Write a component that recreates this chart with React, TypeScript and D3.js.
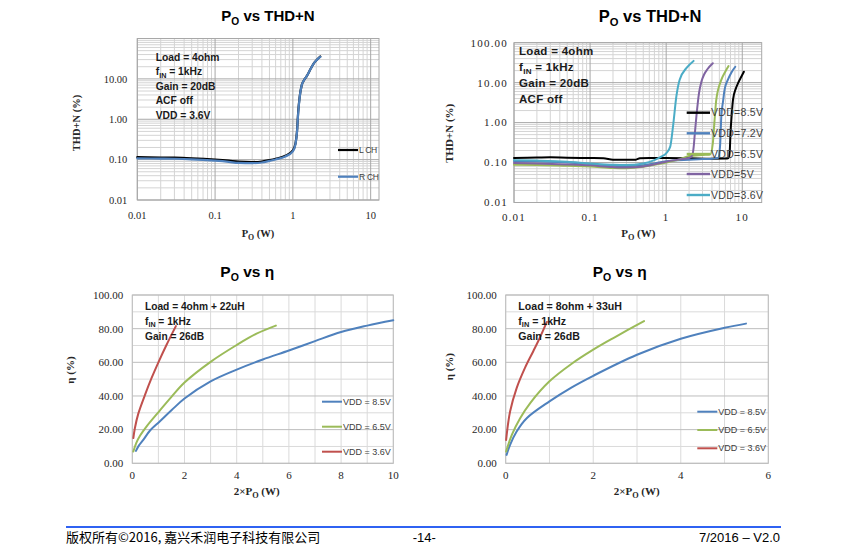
import React from 'react';
import * as d3 from 'd3';

// ---------- Top-left: Po vs THD+N (VDD 3.6V, L/R channels) ----------
const TL_PO = [0.01, 0.02, 0.03, 0.05, 0.1, 0.15, 0.2, 0.3, 0.4, 0.5, 0.6, 0.8, 1.0, 1.08, 1.13, 1.17, 1.22, 1.3, 1.4, 1.5, 1.7, 1.85, 2.05, 2.25];
const TL_LCH = [0.115, 0.113, 0.112, 0.108, 0.1, 0.094, 0.089, 0.087, 0.09, 0.097, 0.105, 0.125, 0.17, 0.25, 0.5, 1.5, 3.5, 7, 9.5, 11.5, 18, 24, 30, 36];
const TL_RCH = [0.107, 0.106, 0.105, 0.102, 0.094, 0.088, 0.083, 0.082, 0.085, 0.093, 0.101, 0.12, 0.16, 0.24, 0.48, 1.4, 3.4, 7, 9.5, 11.5, 18, 24, 30, 35];
const TL_NAMES = ['L CH', 'R CH'];
const TL_NOTES = ['Load = 4ohm', 'f{IN} = 1kHz', 'Gain = 20dB', 'ACF off', 'VDD = 3.6V'];

// ---------- Top-right: Po vs THD+N (several VDD) ----------
const TR_PO_85 = [0.01, 0.02, 0.03, 0.05, 0.1, 0.15, 0.2, 0.3, 0.4, 0.45, 0.6, 1.0, 2.0, 4.0, 6.0, 6.6, 6.85, 7.0, 7.3, 7.55, 8.2, 8.8, 9.7, 10.5];
const TR_THD_85 = [0.13, 0.133, 0.135, 0.132, 0.13, 0.128, 0.118, 0.117, 0.118, 0.128, 0.13, 0.13, 0.128, 0.125, 0.126, 0.13, 0.2, 0.54, 1.8, 3.7, 7, 9.7, 14, 18.8];
const TR_PO_72 = [0.01, 0.02, 0.05, 0.1, 0.2, 0.3, 0.5, 0.7, 1.0, 2.0, 3.0, 4.0, 4.8, 5.1, 5.3, 5.6, 5.85, 6.5, 7.2, 8.1];
const TR_THD_72 = [0.11, 0.108, 0.1, 0.092, 0.083, 0.081, 0.085, 0.095, 0.108, 0.118, 0.122, 0.125, 0.13, 0.25, 1.4, 3.5, 6.6, 12, 18, 25];
const TR_PO_65 = [0.01, 0.02, 0.05, 0.1, 0.2, 0.3, 0.5, 0.7, 1.0, 1.5, 2.0, 3.0, 3.8, 4.1, 4.3, 4.55, 5.3, 6.0, 6.6];
const TR_THD_65 = [0.088, 0.087, 0.083, 0.08, 0.073, 0.072, 0.078, 0.088, 0.1, 0.12, 0.145, 0.155, 0.16, 0.3, 1.0, 3.7, 11.7, 19, 26];
const TR_PO_50 = [0.01, 0.02, 0.05, 0.1, 0.2, 0.3, 0.5, 0.7, 1.0, 1.5, 2.0, 2.2, 2.3, 2.38, 2.5, 2.7, 2.9, 3.15, 3.5, 4.1];
const TR_THD_50 = [0.097, 0.095, 0.09, 0.085, 0.077, 0.075, 0.08, 0.09, 0.105, 0.12, 0.13, 0.15, 0.25, 0.54, 1.5, 5.5, 10.5, 16, 22, 30.6];
const TR_PO_36 = [0.01, 0.02, 0.05, 0.1, 0.2, 0.3, 0.5, 0.7, 0.86, 1.0, 1.13, 1.23, 1.36, 1.5, 1.84, 2.29];
const TR_THD_36 = [0.115, 0.112, 0.105, 0.095, 0.088, 0.087, 0.095, 0.115, 0.14, 0.17, 0.25, 0.8, 4.5, 11.7, 23, 35];
const TR_NAMES = ['VDD=8.5V', 'VDD=7.2V', 'VDD=6.5V', 'VDD=5V', 'VDD=3.6V'];
const TR_NOTES = ['Load = 4ohm', 'f{IN} = 1kHz', 'Gain = 20dB', 'ACF off'];

// ---------- Bottom-left: Po vs efficiency, 4ohm ----------
const BL_PO_85 = [0.14, 0.25, 0.42, 0.68, 1.06, 1.5, 2.0, 3.0, 4.0, 5.0, 6.0, 7.0, 8.0, 9.0, 10.0];
const BL_EFF_85 = [7.4, 10.5, 13.9, 19.5, 25, 31.5, 38.5, 48.7, 55.7, 61.7, 67, 72.6, 78, 81.8, 85];
const BL_PO_65 = [0.04, 0.15, 0.3, 0.55, 1.06, 1.5, 2.0, 3.0, 4.0, 4.76, 5.5];
const BL_EFF_65 = [7, 12, 16.5, 22, 31.5, 39.5, 48, 60.3, 70.3, 77, 81.8];
const BL_PO_36 = [0.04, 0.1, 0.23, 0.49, 0.74, 1.0, 1.3, 1.67];
const BL_EFF_36 = [15, 21, 29.5, 40.8, 50.7, 60, 70, 81.5];
const BL_NOTES = ['Load = 4ohm + 22uH', 'f{IN} = 1kHz', 'Gain = 26dB'];

// ---------- Bottom-right: Po vs efficiency, 8ohm ----------
const BR_PO_85 = [0.02, 0.1, 0.25, 0.48, 1.0, 1.5, 2.0, 3.0, 4.0, 5.0, 5.49];
const BR_EFF_85 = [5, 11, 18.9, 26.8, 36.8, 45, 52, 64.5, 74, 80.5, 83];
const BR_PO_65 = [0.01, 0.14, 0.33, 0.56, 1.0, 1.5, 2.0, 2.5, 3.16];
const BR_EFF_65 = [7, 16.9, 26.8, 35.8, 48.7, 59, 67.5, 75, 84.5];
const BR_PO_36 = [0.01, 0.1, 0.25, 0.44, 0.63, 0.78, 0.94];
const BR_EFF_36 = [13.9, 30.8, 44.7, 56.7, 66.6, 74.6, 84];
const BR_NOTES = ['Load = 8ohm + 33uH', 'f{IN} = 1kHz', 'Gain = 26dB'];

const EFF_NAMES = ['VDD = 8.5V', 'VDD = 6.5V', 'VDD = 3.6V'];

// ---------- Ticks ----------
const TL_Y_TICKS = [0.01, 0.1, 1, 10];
const TR_Y_TICKS = [0.01, 0.1, 1, 10, 100];
const LOG_X_TICKS = [0.01, 0.1, 1, 10];
const LOG_X_LABELS = ['0.01', '0.1', '1', '10'];
const EFF_Y_TICKS = [0, 20, 40, 60, 80, 100];
const BL_X_TICKS = [0, 2, 4, 6, 8, 10];
const BR_X_TICKS = [0, 2, 4, 6];

const COL = { black: '#000000', blue: '#4F81BD', green: '#9BBB59', purple: '#8064A2', cyan: '#4BACC6', red: '#C0504D' };

const SANS = "'Liberation Sans', Arial, sans-serif";
const SERIF = "'Liberation Serif', 'Times New Roman', serif";

type Ser = { name: string; color: string; xs: number[]; ys: number[] };
type G = { v: number; major: boolean };

function logGrid(min: number, max: number): G[] {
  const out: G[] = [];
  for (let n = Math.floor(Math.log10(min)); n <= Math.ceil(Math.log10(max)); n++) {
    for (let k = 1; k <= 9; k++) {
      const v = k * Math.pow(10, n);
      if (v >= min * 0.999 && v <= max * 1.001) out.push({ v, major: k === 1 });
    }
  }
  return out;
}

function Rich({ text, sub }: { text: string; sub: number }) {
  const parts = text.split(/(\{[^}]*\})/).filter((p) => p !== '');
  let shifted = false;
  return (
    <>
      {parts.map((p, i) => {
        if (p.startsWith('{')) {
          shifted = true;
          return (
            <tspan key={i} dy={sub * 0.4} fontSize={sub}>
              {p.slice(1, -1)}
            </tspan>
          );
        }
        const dy = shifted ? -sub * 0.4 : 0;
        shifted = false;
        return (
          <tspan key={i} dy={dy}>
            {p}
          </tspan>
        );
      })}
    </>
  );
}

interface ChartProps {
  x: any;
  y: any;
  gridX: G[];
  gridY: G[];
  majorColor: string;
  minorColor: string;
  xTicks: number[];
  xLabels: string[];
  xLabelY: number;
  yTicks: number[];
  yLabels: string[];
  yGap: number;
  tickFont: number;
  tickSpacing: number;
  series: Ser[];
  strokeW: number;
  curve: any;
  legend: { x1: number; x2: number; ys: number[]; font: number; spacing: number; lw: number };
  notes: string[];
  noteX: number;
  noteY0: number;
  noteStep: number;
  noteFont: number;
  noteSpacing: number;
  title: string;
  titleX: number;
  titleY: number;
  titleSize: number;
  xTitle: string;
  xTitleX: number;
  xTitleY: number;
  yTitle: string;
  yTitleX: number;
  yTitleY: number;
  axisFont: number;
}

function Chart(p: ChartProps) {
  const [x0, x1] = p.x.range();
  const [y0, y1] = p.y.range();
  const line = d3
    .line<[number, number]>()
    .x((d) => p.x(d[0]))
    .y((d) => p.y(d[1]))
    .curve(p.curve);
  return (
    <g>
      {p.gridX.filter((g) => !g.major).map((g, i) => (
        <line key={'gx' + i} x1={p.x(g.v)} x2={p.x(g.v)} y1={y0} y2={y1} stroke={p.minorColor} strokeWidth={1} />
      ))}
      {p.gridY.filter((g) => !g.major).map((g, i) => (
        <line key={'gy' + i} y1={p.y(g.v)} y2={p.y(g.v)} x1={x0} x2={x1} stroke={p.minorColor} strokeWidth={1} />
      ))}
      {p.gridX.filter((g) => g.major).map((g, i) => (
        <line key={'mx' + i} x1={p.x(g.v)} x2={p.x(g.v)} y1={y0} y2={y1} stroke={p.majorColor} strokeWidth={1} />
      ))}
      {p.gridY.filter((g) => g.major).map((g, i) => (
        <line key={'my' + i} y1={p.y(g.v)} y2={p.y(g.v)} x1={x0} x2={x1} stroke={p.majorColor} strokeWidth={1} />
      ))}
      <rect x={x0} y={y1} width={x1 - x0} height={y0 - y1} fill="none" stroke={p.majorColor} strokeWidth={1} />
      {p.xTicks.map((t, i) => (
        <text key={'xt' + i} x={p.x(t)} y={p.xLabelY} textAnchor="middle" fontFamily={SERIF} fontSize={p.tickFont}
          letterSpacing={p.tickSpacing} fill="#262626">
          {p.xLabels[i]}
        </text>
      ))}
      {p.yTicks.map((t, i) => (
        <text key={'yt' + i} x={x0 - p.yGap} y={p.y(t)} dy="0.35em" textAnchor="end" fontFamily={SERIF}
          fontSize={p.tickFont} letterSpacing={p.tickSpacing} fill="#262626">
          {p.yLabels[i]}
        </text>
      ))}
      {p.series.map((s, i) => (
        <path key={'s' + i} d={line(s.xs.map((v, j) => [v, s.ys[j]] as [number, number])) || ''} fill="none"
          stroke={s.color} strokeWidth={p.strokeW} strokeLinejoin="round" strokeLinecap="round" />
      ))}
      {p.notes.map((n, i) => (
        <text key={'n' + i} x={p.noteX} y={p.noteY0 + i * p.noteStep} fontFamily={SANS} fontWeight="bold"
          fontSize={p.noteFont} letterSpacing={p.noteSpacing} fill="#1a1a1a">
          <Rich text={n} sub={p.noteFont * 0.7} />
        </text>
      ))}
      {p.series.map((s, i) => (
        <g key={'lg' + i}>
          <line x1={p.legend.x1} x2={p.legend.x2} y1={p.legend.ys[i]} y2={p.legend.ys[i]} stroke={s.color}
            strokeWidth={p.legend.lw} />
          <text x={p.legend.x2 + 1} y={p.legend.ys[i]} dy="0.35em" fontFamily={SANS} fontSize={p.legend.font}
            letterSpacing={p.legend.spacing} fill="#404040">
            {s.name}
          </text>
        </g>
      ))}
      <text x={p.titleX} y={p.titleY} textAnchor="middle" fontFamily={SANS} fontWeight="bold" fontSize={p.titleSize}
        fill="#000">
        <Rich text={p.title} sub={p.titleSize * 0.68} />
      </text>
      <text x={p.xTitleX} y={p.xTitleY} textAnchor="middle" fontFamily={SERIF} fontWeight="bold" fontSize={p.axisFont}
        fill="#262626">
        <Rich text={p.xTitle} sub={p.axisFont * 0.75} />
      </text>
      <text transform={`translate(${p.yTitleX},${p.yTitleY}) rotate(-90)`} textAnchor="middle" dy="0.35em"
        fontFamily={SERIF} fontWeight="bold" fontSize={p.axisFont} fill="#262626">
        {p.yTitle}
      </text>
    </g>
  );
}

export default function App() {
  const tlX = d3.scaleLog().domain([0.01, 12.8]).range([137.3, 379]);
  const tlY = d3.scaleLog().domain([0.01, 100]).range([200, 38.5]);
  const trX = d3.scaleLog().domain([0.01, 18]).range([514, 761.7]);
  const trY = d3.scaleLog().domain([0.01, 100]).range([202.5, 42.7]);
  const blX = d3.scaleLinear().domain([0, 10]).range([132.3, 393.3]);
  const blY = d3.scaleLinear().domain([0, 100]).range([463.3, 295]);
  const brX = d3.scaleLinear().domain([0, 6]).range([505.7, 768.3]);
  const brY = d3.scaleLinear().domain([0, 100]).range([463.3, 295]);

  const fmt2 = d3.format('.2f');
  const effGridY: G[] = d3.range(0, 101, 10).map((v) => ({ v, major: v % 20 === 0 }));
  const blGridX: G[] = d3.range(0, 11, 1).map((v) => ({ v, major: false }));
  const brGridX: G[] = d3.range(0, 7, 1).map((v) => ({ v, major: false }));
  const smooth = d3.curveCatmullRom.alpha(0.5);

  const tlSeries: Ser[] = [
    { name: TL_NAMES[0], color: COL.black, xs: TL_PO, ys: TL_LCH },
    { name: TL_NAMES[1], color: COL.blue, xs: TL_PO, ys: TL_RCH },
  ];
  const trSeries: Ser[] = [
    { name: TR_NAMES[0], color: COL.black, xs: TR_PO_85, ys: TR_THD_85 },
    { name: TR_NAMES[1], color: COL.blue, xs: TR_PO_72, ys: TR_THD_72 },
    { name: TR_NAMES[2], color: COL.green, xs: TR_PO_65, ys: TR_THD_65 },
    { name: TR_NAMES[3], color: COL.purple, xs: TR_PO_50, ys: TR_THD_50 },
    { name: TR_NAMES[4], color: COL.cyan, xs: TR_PO_36, ys: TR_THD_36 },
  ];
  const blSeries: Ser[] = [
    { name: EFF_NAMES[0], color: COL.blue, xs: BL_PO_85, ys: BL_EFF_85 },
    { name: EFF_NAMES[1], color: COL.green, xs: BL_PO_65, ys: BL_EFF_65 },
    { name: EFF_NAMES[2], color: COL.red, xs: BL_PO_36, ys: BL_EFF_36 },
  ];
  const brSeries: Ser[] = [
    { name: EFF_NAMES[0], color: COL.blue, xs: BR_PO_85, ys: BR_EFF_85 },
    { name: EFF_NAMES[1], color: COL.green, xs: BR_PO_65, ys: BR_EFF_65 },
    { name: EFF_NAMES[2], color: COL.red, xs: BR_PO_36, ys: BR_EFF_36 },
  ];

  return (
    <svg width={850} height={555} style={{ position: 'absolute', left: 0, top: 0, background: '#fff' }}>
      <rect x={0} y={0} width={850} height={555} fill="#fff" />
      <Chart
        x={tlX} y={tlY} gridX={logGrid(0.01, 12.8)} gridY={logGrid(0.01, 100)}
        majorColor="#a8a8a8" minorColor="#d4d4d4"
        xTicks={LOG_X_TICKS} xLabels={LOG_X_LABELS} xLabelY={219}
        yTicks={TL_Y_TICKS} yLabels={TL_Y_TICKS.map(fmt2)} yGap={10}
        tickFont={10.5} tickSpacing={0}
        series={tlSeries} strokeW={2.2} curve={d3.curveMonotoneX}
        legend={{ x1: 338, x2: 358, ys: [150, 176.7], font: 8.5, spacing: -0.3, lw: 2.2 }}
        notes={TL_NOTES} noteX={155.7} noteY0={60.5} noteStep={14.6} noteFont={10.3} noteSpacing={0}
        title="P{O} vs THD+N" titleX={268} titleY={21} titleSize={15}
        xTitle="P{O} (W)" xTitleX={258} xTitleY={237}
        yTitle="THD+N (%)" yTitleX={76.7} yTitleY={123} axisFont={10.5}
      />
      <Chart
        x={trX} y={trY} gridX={logGrid(0.01, 18)} gridY={logGrid(0.01, 100)}
        majorColor="#a8a8a8" minorColor="#d4d4d4"
        xTicks={LOG_X_TICKS} xLabels={LOG_X_LABELS} xLabelY={220.5}
        yTicks={TR_Y_TICKS} yLabels={TR_Y_TICKS.map(fmt2)} yGap={6}
        tickFont={11} tickSpacing={1.2}
        series={trSeries} strokeW={2} curve={d3.curveMonotoneX}
        legend={{ x1: 686.7, x2: 710, ys: [112.7, 133.3, 154, 174, 195], font: 10.5, spacing: 0.3, lw: 2.4 }}
        notes={TR_NOTES} noteX={519} noteY0={54.5} noteStep={16.3} noteFont={11.5} noteSpacing={0.3}
        title="P{O} vs THD+N" titleX={650} titleY={22} titleSize={16.5}
        xTitle="P{O} (W)" xTitleX={638.3} xTitleY={237}
        yTitle="THD+N (%)" yTitleX={449.3} yTitleY={133.3} axisFont={11}
      />
      <Chart
        x={blX} y={blY} gridX={blGridX} gridY={effGridY}
        majorColor="#bdbdbd" minorColor="#dadada"
        xTicks={BL_X_TICKS} xLabels={BL_X_TICKS.map(String)} xLabelY={479}
        yTicks={EFF_Y_TICKS} yLabels={EFF_Y_TICKS.map(fmt2)} yGap={9}
        tickFont={11} tickSpacing={0}
        series={blSeries} strokeW={2} curve={smooth}
        legend={{ x1: 322, x2: 342, ys: [401.7, 426.7, 451.7], font: 9, spacing: 0, lw: 2 }}
        notes={BL_NOTES} noteX={145} noteY0={309.5} noteStep={15} noteFont={10.2} noteSpacing={0}
        title="P{O} vs η" titleX={247.3} titleY={276.7} titleSize={15.5}
        xTitle="2×P{O} (W)" xTitleX={256.7} xTitleY={495}
        yTitle="η (%)" yTitleX={70} yTitleY={370} axisFont={11}
      />
      <Chart
        x={brX} y={brY} gridX={brGridX} gridY={effGridY}
        majorColor="#bdbdbd" minorColor="#dadada"
        xTicks={BR_X_TICKS} xLabels={BR_X_TICKS.map(String)} xLabelY={479}
        yTicks={EFF_Y_TICKS} yLabels={EFF_Y_TICKS.map(fmt2)} yGap={9}
        tickFont={11} tickSpacing={0}
        series={brSeries} strokeW={2} curve={smooth}
        legend={{ x1: 697.3, x2: 717.3, ys: [411.7, 430, 448.3], font: 9, spacing: 0, lw: 2 }}
        notes={BR_NOTES} noteX={518.3} noteY0={309.5} noteStep={15} noteFont={10.6} noteSpacing={0}
        title="P{O} vs η" titleX={619.7} titleY={276.7} titleSize={15.5}
        xTitle="2×P{O} (W)" xTitleX={636.7} xTitleY={495}
        yTitle="η (%)" yTitleX={449.3} yTitleY={366.7} axisFont={11}
      />
      <line x1={66} x2={781} y1={527} y2={527} stroke="#2f62f2" strokeWidth={2} />
      <text x={66} y={541.5} fontFamily="'Noto Sans CJK SC', sans-serif" fontSize={13} fill="#000">
        版权所有©2016, 嘉兴禾润电子科技有限公司
      </text>
      <text x={412.7} y={541.5} fontFamily={SANS} fontSize={13} fill="#000">-14-</text>
      <text x={780} y={541.5} textAnchor="end" fontFamily={SANS} fontSize={13} fill="#000">7/2016 – V2.0</text>
    </svg>
  );
}
